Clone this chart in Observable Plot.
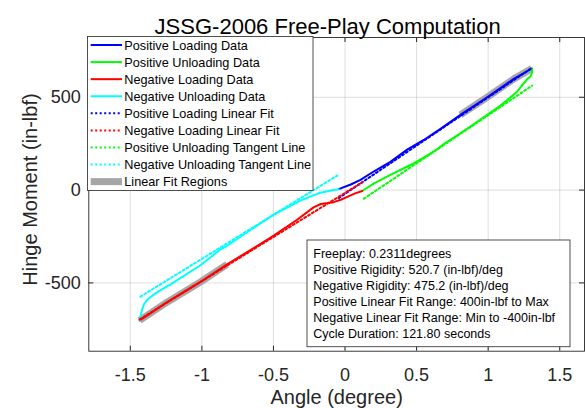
<!DOCTYPE html>
<html><head><meta charset="utf-8">
<script src="https://cdn.jsdelivr.net/npm/d3@7"></script>
<script src="https://cdn.jsdelivr.net/npm/@observablehq/plot@0.6"></script>
<style>html,body{margin:0;padding:0;background:#fff;}</style>
</head><body><div id="chart"></div>
<script>
// ---- data ----
const posLoadX = [-0.044, 0.04, 0.108, 0.2, 0.317, 0.434, 0.55, 0.667, 0.806, 0.993, 1.179, 1.305];
const posLoadY = [5, 30, 55, 100, 152, 218, 270, 330, 405, 500, 599, 655];
const posUnloadX = [1.305, 1.307, 1.295, 1.272, 1.23, 1.2, 1.086, 0.946, 0.806, 0.69, 0.65, 0.62, 0.55, 0.457, 0.317, 0.2, 0.12];
const posUnloadY = [655, 635, 612, 597, 558, 528, 455, 380, 306, 248, 224, 208, 175, 135, 82, 35, -5];
const negLoadX = [0.12, 0.07, 0.02, -0.03, -0.08, -0.12, -0.17, -0.22, -0.335, -0.498, -0.661, -0.824, -1.01, -1.243, -1.435];
const negLoadY = [-5, -18, -35, -52, -65, -70, -75, -93, -160, -245, -323, -400, -495, -604, -702];
const negUnloadX = [-1.435, -1.42, -1.405, -1.38, -1.34, -1.313, -1.197, -1.01, -0.871, -0.824, -0.661, -0.498, -0.312, -0.172, -0.079, -0.044];
const negUnloadY = [-702, -650, -615, -590, -565, -551, -497, -405, -320, -300, -215, -132, -57, -14, 0, 5];
// fitted / tangent lines: end points
const posFitX = [-0.044, 1.305], posFitY = [-43, 658];
const negFitX = [-1.435, 0.12], negFitY = [-697, 42];
const posTanX = [0.131, 1.307], posTanY = [-47, 563];
const negTanX = [-1.429, -0.055], negTanY = [-574, 78];
const posRangeMin = 400, negRangeMax = -400;

const xTicks = [-1.5, -1, -0.5, 0, 0.5, 1, 1.5];
const xTickLabels = ["-1.5", "-1", "-0.5", "0", "0.5", "1", "1.5"];
const yTicks = [-500, 0, 500];
const yTickLabels = ["-500", "0", "500"];
const xDomain = [-1.79, 1.673];
const yDomain = [-868, 822];

const titleText = "JSSG-2006 Free-Play Computation";
const xLabel = "Angle (degree)";
const yLabel = "Hinge Moment (in-lbf)";
const legendLabels = ["Positive Loading Data", "Positive Unloading Data", "Negative Loading Data", "Negative Unloading Data",
  "Positive Loading Linear Fit", "Negative Loading Linear Fit", "Positive Unloading Tangent Line", "Negative Unloading Tangent Line", "Linear Fit Regions"];
const infoLines = ["Freeplay: 0.2311degrees", "Positive Rigidity: 520.7 (in-lbf)/deg", "Negative Rigidity: 475.2 (in-lbf)/deg",
  "Positive Linear Fit Range: 400in-lbf to Max", "Negative Linear Fit Range: Min to -400in-lbf", "Cycle Duration: 121.80 seconds"];

// ---- build tables ----
const pts = (X, Y) => X.map((x, i) => ({x, y: Y[i]}));
const posLoad = pts(posLoadX, posLoadY), posUnload = pts(posUnloadX, posUnloadY);
const negLoad = pts(negLoadX, negLoadY), negUnload = pts(negUnloadX, negUnloadY);
const posFit = pts(posFitX, posFitY), negFit = pts(negFitX, negFitY);
const posTan = pts(posTanX, posTanY), negTan = pts(negTanX, negTanY);
const posRegion = posLoad.filter(d => d.y >= posRangeMin);
const negRegion = negLoad.filter(d => d.y <= negRangeMax);

const BLUE = "#0000ff", GREEN = "#00ff00", RED = "#ff0000", CYAN = "#00ffff", GREY = "#a6a6a6", AX = "#262626";
const FONT = "'Liberation Sans', Arial, Helvetica, sans-serif";
const DOT = "2,2.5";
const ML = 88.3, MR = 1, MT = 37, MB = 57.3, W = 585, H = 408;
const FW = W - ML - MR, FH = H - MT - MB;

const plot = Plot.plot({
  width: W, height: H,
  marginLeft: ML, marginRight: MR, marginTop: MT, marginBottom: MB,
  style: {fontFamily: FONT, fontSize: "18px", color: AX, background: "#fff", overflow: "visible"},
  x: {domain: xDomain},
  y: {domain: yDomain},
  marks: [
    Plot.gridX(xTicks, {stroke: AX, strokeOpacity: 0.15}),
    Plot.gridY(yTicks, {stroke: AX, strokeOpacity: 0.15}),
    Plot.line(posRegion, {x: "x", y: "y", stroke: GREY, strokeWidth: 7, strokeLinecap: "butt"}),
    Plot.line(negRegion, {x: "x", y: "y", stroke: GREY, strokeWidth: 7, strokeLinecap: "butt"}),
    Plot.line(posLoad, {x: "x", y: "y", stroke: BLUE, strokeWidth: 2}),
    Plot.line(posUnload, {x: "x", y: "y", stroke: GREEN, strokeWidth: 2}),
    Plot.line(negLoad, {x: "x", y: "y", stroke: RED, strokeWidth: 2}),
    Plot.line(negUnload, {x: "x", y: "y", stroke: CYAN, strokeWidth: 2}),
    Plot.line(posFit, {x: "x", y: "y", stroke: BLUE, strokeWidth: 2, strokeDasharray: DOT}),
    Plot.line(negFit, {x: "x", y: "y", stroke: RED, strokeWidth: 2, strokeDasharray: DOT}),
    Plot.line(posTan, {x: "x", y: "y", stroke: GREEN, strokeWidth: 2, strokeDasharray: DOT}),
    Plot.line(negTan, {x: "x", y: "y", stroke: CYAN, strokeWidth: 2, strokeDasharray: DOT}),
    Plot.frame({stroke: AX, strokeWidth: 0.9}),
    // inward ticks on all four sides
    Plot.tickX(xTicks, {x: d => d, stroke: AX, insetTop: FH - 5}),
    Plot.tickX(xTicks, {x: d => d, stroke: AX, insetBottom: FH - 5}),
    Plot.tickY(yTicks, {y: d => d, stroke: AX, insetRight: FW - 5}),
    Plot.tickY(yTicks, {y: d => d, stroke: AX, insetLeft: FW - 5}),
    Plot.axisX(xTicks, {tickSize: 0, tickPadding: 17, tickFormat: d => xTickLabels[xTicks.indexOf(d)], label: null, fontSize: 18}),
    Plot.axisY(yTicks, {tickSize: 0, tickPadding: 8, tickFormat: d => yTickLabels[yTicks.indexOf(d)], label: null, fontSize: 18}),
    Plot.text([titleText], {frameAnchor: "top", dx: -9, dy: -10.5, fontSize: 22, textAnchor: "middle", lineAnchor: "middle", fill: "#000"}),
    Plot.text([xLabel], {frameAnchor: "bottom", dy: 45.9, fontSize: 20, textAnchor: "middle", lineAnchor: "middle", fill: AX}),
    Plot.text([yLabel], {frameAnchor: "left", rotate: -90, dx: -58.7, dy: -4.85, fontSize: 20, textAnchor: "middle", lineAnchor: "middle", fill: AX})
  ]
});
document.getElementById("chart").appendChild(plot);

// ---- legend box ----
const svg = d3.select(plot);
const legendStyles = [
  {c: BLUE, w: 2, d: null}, {c: GREEN, w: 2, d: null}, {c: RED, w: 2, d: null}, {c: CYAN, w: 2, d: null},
  {c: BLUE, w: 2, d: DOT}, {c: RED, w: 2, d: DOT}, {c: GREEN, w: 2, d: DOT}, {c: CYAN, w: 2, d: DOT}, {c: GREY, w: 7, d: null}
];
const lg = svg.append("g").attr("font-family", FONT).attr("font-size", 12.7).attr("text-anchor", "start");
lg.append("rect").attr("x", 87.5).attr("y", 36.5).attr("width", 225.5).attr("height", 154)
  .attr("fill", "#fff").attr("stroke", "#3c3c3c").attr("stroke-width", 0.9);
legendLabels.forEach((t, i) => {
  const y = 45 + i * 17.08;
  const s = legendStyles[i];
  lg.append("line").attr("x1", 90.7).attr("x2", 122).attr("y1", y).attr("y2", y)
    .attr("stroke", s.c).attr("stroke-width", s.w).attr("stroke-dasharray", s.d);
  lg.append("text").attr("x", 124.3).attr("y", y).attr("dy", "0.36em").attr("fill", "#000").text(t);
});

// ---- info box ----
const ib = svg.append("g").attr("font-family", FONT).attr("font-size", 12.5).attr("text-anchor", "start");
ib.append("rect").attr("x", 307).attr("y", 240).attr("width", 263).attr("height", 106.7)
  .attr("fill", "#fff").attr("stroke", "#3c3c3c").attr("stroke-width", 0.9);
infoLines.forEach((t, i) => {
  ib.append("text").attr("x", 313.3).attr("y", 253.3 + i * 16.1).attr("dy", "0.36em").attr("fill", "#000").text(t);
});
</script>
</body></html>
